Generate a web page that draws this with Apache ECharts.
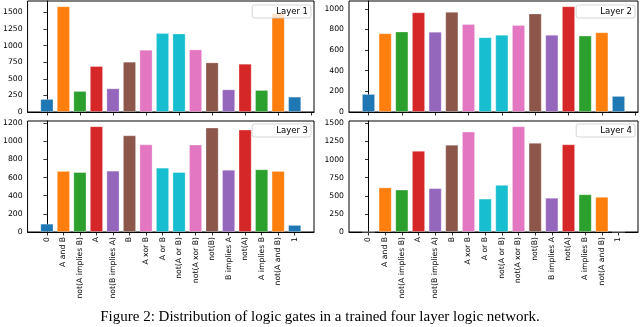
<!DOCTYPE html>
<html>
<head>
<meta charset="utf-8">
<script src="https://cdn.jsdelivr.net/npm/echarts@6/dist/echarts.min.js"></script>
<style>
  html, body { margin: 0; padding: 0; background: #fff; }
  #chart { width: 640px; height: 327px; }
</style>
</head>
<body>
<div id="chart"></div>
<script>
// gate names on the x axis
const categories = ['0', 'A and B', 'not(A implies B)', 'A', 'not(B implies A)', 'B', 'A xor B', 'A or B',
  'not(A or B)', 'not(A xor B)', 'not(B)', 'B implies A', 'not(A)', 'A implies B', 'not(A and B)', '1'];

// counts per layer
const layer1 = [195, 1590, 315, 690, 355, 755, 935, 1185, 1180, 940, 745, 340, 725, 330, 1490, 230];
const layer2 = [174, 762, 780, 965, 778, 970, 852, 725, 748, 843, 955, 748, 1025, 740, 772, 155];
const layer3 = [91, 672, 660, 1165, 675, 1065, 965, 708, 660, 962, 1150, 685, 1128, 690, 672, 77];
const layer4 = [0, 615, 585, 1120, 605, 1205, 1385, 460, 650, 1460, 1230, 472, 1210, 520, 485, 0];

const yTicks1 = [0, 250, 500, 750, 1000, 1250, 1500];
const yTicks2 = [0, 200, 400, 600, 800, 1000];
const yTicks3 = [0, 200, 400, 600, 800, 1000, 1200];
const yTicks4 = [0, 250, 500, 750, 1000, 1250, 1500];

// matplotlib tab10 colours, one per gate
const gateColors = ['#1f77b4', '#ff7f0e', '#2ca02c', '#d62728', '#9467bd', '#8c564b', '#e377c2', '#17becf',
  '#17becf', '#e377c2', '#8c564b', '#9467bd', '#d62728', '#2ca02c', '#ff7f0e', '#1f77b4'];

const font = 'DejaVu Sans';
const layers = [
  { name: 'Layer 1', data: layer1, ticks: yTicks1 },
  { name: 'Layer 2', data: layer2, ticks: yTicks2 },
  { name: 'Layer 3', data: layer3, ticks: yTicks3 },
  { name: 'Layer 4', data: layer4, ticks: yTicks4 }
];
const grids = [
  { left: 25, top: 1, width: 289, height: 111 },
  { left: 349, top: 1, width: 289, height: 111 },
  { left: 25, top: 121, width: 289, height: 111 },
  { left: 349, top: 121, width: 289, height: 111 }
];
const legendPos = [
  { right: 329, top: 5 },
  { right: 5, top: 5 },
  { right: 329, top: 124 },
  { right: 5, top: 124 }
];

const idx = categories.map((c, i) => i);
const evenIdx = [0, 2, 4, 6, 8, 10, 12, 14, 16];

const option = {
  animation: false,
  title: {
    text: 'Figure 2: Distribution of logic gates in a trained four layer logic network.',
    left: 'center',
    top: 305,
    textStyle: { fontFamily: 'Liberation Serif', fontSize: 15, fontWeight: 'normal', color: '#000' }
  },
  grid: grids.map(g => Object.assign({ show: true, borderColor: '#000', borderWidth: 1, containLabel: false }, g)),
  legend: layers.map((l, i) => Object.assign({
    data: [{ name: l.name, itemStyle: { opacity: 0 } }],
    orient: 'vertical',
    selectedMode: false,
    icon: 'rect',
    itemWidth: 15,
    itemHeight: 7,
    itemGap: 0,
    padding: [2, 3, 2, 3],
    backgroundColor: 'rgba(255,255,255,0.8)',
    borderColor: '#ccc',
    borderWidth: 0.8,
    borderRadius: 2,
    textStyle: { fontFamily: font, fontSize: 8.5, color: '#000' }
  }, legendPos[i])),
  xAxis: layers.map((l, i) => ({
    type: 'value',
    gridIndex: i,
    min: -1.17,
    max: 16.17,
    splitLine: { show: false },
    axisLine: { show: true, lineStyle: { color: '#000', width: 1 } },
    axisTick: {
      show: true, length: 3.5, lineStyle: { color: '#000', width: 0.8 },
      customValues: i < 2 ? evenIdx : idx
    },
    axisLabel: {
      show: i >= 2,
      customValues: idx,
      rotate: 90,
      margin: 5,
      fontFamily: font,
      fontSize: 7.7,
      color: '#000',
      formatter: v => categories[v]
    }
  })),
  yAxis: layers.map((l, i) => ({
    type: 'value',
    gridIndex: i,
    min: 0,
    max: Math.max(...l.data) * 1.05,
    splitLine: { show: false },
    axisLine: { show: true, lineStyle: { color: '#000', width: 1 } },
    axisTick: { show: true, length: 3.5, lineStyle: { color: '#000', width: 0.8 }, customValues: l.ticks },
    axisLabel: {
      customValues: l.ticks,
      margin: 5,
      fontFamily: font,
      fontSize: 7.7,
      color: '#000',
      formatter: v => String(v)
    }
  })),
  series: layers.map((l, i) => ({
    name: l.name,
    type: 'bar',
    xAxisIndex: i,
    yAxisIndex: i,
    barWidth: 13,
    data: l.data.map((v, k) => [k, v]),
    itemStyle: {
      color: p => gateColors[p.dataIndex],
      borderColor: 'rgba(255,255,255,0.35)',
      borderWidth: 0.8
    }
  }))
};

const chart = echarts.init(document.getElementById('chart'), null, { renderer: 'canvas' });
chart.setOption(option);
</script>
</body>
</html>
